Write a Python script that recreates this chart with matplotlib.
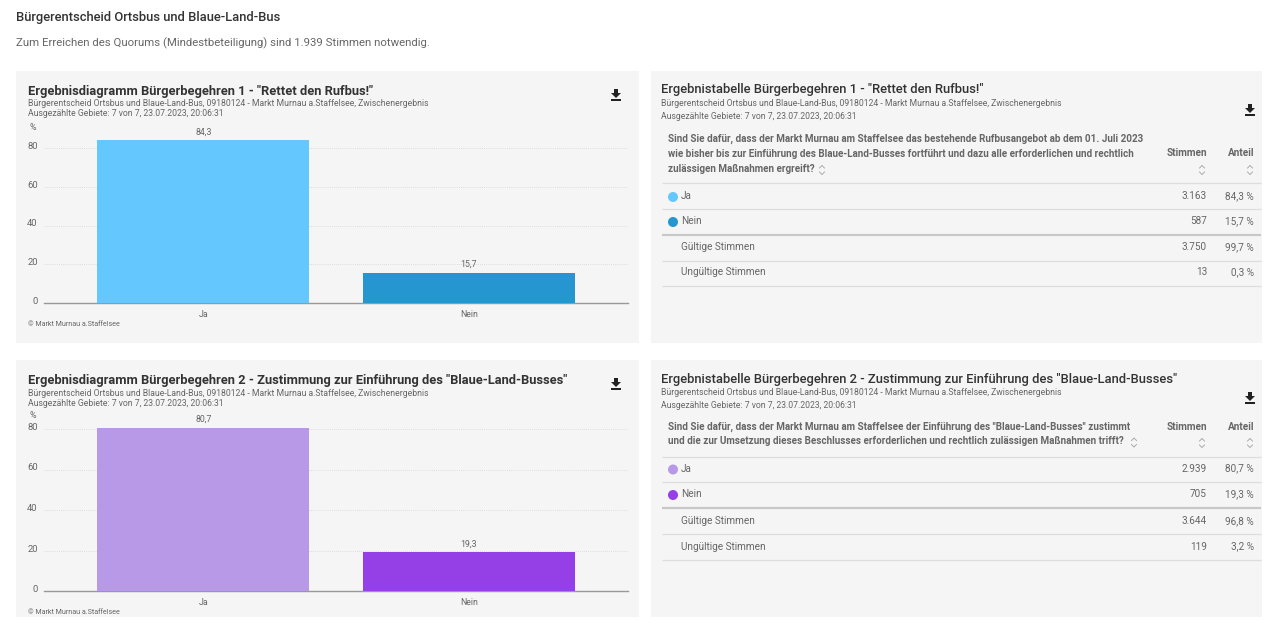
import matplotlib
matplotlib.use('Agg')
import matplotlib.pyplot as plt
from matplotlib.patches import Rectangle, Circle, Polygon
from matplotlib.transforms import ScaledTranslation

plt.rcParams['font.family'] = ['Roboto', 'DejaVu Sans']

W, H = 1280, 631

page_title = 'Bürgerentscheid Ortsbus und Blaue-Land-Bus'
page_note = 'Zum Erreichen des Quorums (Mindestbeteiligung) sind 1.939 Stimmen notwendig.'
sub1 = 'Bürgerentscheid Ortsbus und Blaue-Land-Bus, 09180124 - Markt Murnau a.Staffelsee, Zwischenergebnis'
sub2 = 'Ausgezählte Gebiete: 7 von 7, 23.07.2023, 20:06:31'
copyright_text = '© Markt Murnau a.Staffelsee'

categories = ['Ja', 'Nein']
yticks = [0, 20, 40, 60, 80]

title_chart1 = 'Ergebnisdiagramm Bürgerbegehren 1 - "Rettet den Rufbus!"'
values1 = [84.3, 15.7]
colors1 = ['#64c8ff', '#2596cf']

title_chart2 = 'Ergebnisdiagramm Bürgerbegehren 2 - Zustimmung zur Einführung des "Blaue-Land-Busses"'
values2 = [80.7, 19.3]
colors2 = ['#b899e8', '#9540e6']

title_table1 = 'Ergebnistabelle Bürgerbegehren 1 - "Rettet den Rufbus!"'
question1 = ['Sind Sie dafür, dass der Markt Murnau am Staffelsee das bestehende Rufbusangebot ab dem 01. Juli 2023',
             'wie bisher bis zur Einführung des Blaue-Land-Busses fortführt und dazu alle erforderlichen und rechtlich',
             'zulässigen Maßnahmen ergreift?']
rows1 = ['Ja', 'Nein', 'Gültige Stimmen', 'Ungültige Stimmen']
votes1 = ['3.163', '587', '3.750', '13']
share1 = ['84,3 %', '15,7 %', '99,7 %', '0,3 %']

title_table2 = 'Ergebnistabelle Bürgerbegehren 2 - Zustimmung zur Einführung des "Blaue-Land-Busses"'
question2 = ['Sind Sie dafür, dass der Markt Murnau am Staffelsee der Einführung des "Blaue-Land-Busses" zustimmt',
             'und die zur Umsetzung dieses Beschlusses erforderlichen und rechtlich zulässigen Maßnahmen trifft?']
rows2 = ['Ja', 'Nein', 'Gültige Stimmen', 'Ungültige Stimmen']
votes2 = ['2.939', '705', '3.644', '119']
share2 = ['80,7 %', '19,3 %', '96,8 %', '3,2 %']

fig = plt.figure(figsize=(W / 100, H / 100), dpi=100, facecolor='white')

# overlay in pixel coordinates for the page furniture
bg = fig.add_axes([0, 0, 1, 1])
bg.set_xlim(0, W)
bg.set_ylim(H, 0)
bg.axis('off')

PANEL = '#f5f5f5'
DARK = '#333333'
MID = '#666666'


def txt(x, y, s, size, color=MID, weight='normal', ha='left'):
    bg.text(x, y, s, fontsize=size, color=color, fontweight=weight, ha=ha, va='center')


def download_icon(cx, cy):
    bg.add_patch(Polygon([(cx - 2, cy - 5), (cx + 2, cy - 5), (cx + 2, cy - 1), (cx + 5, cy - 1),
                          (cx, cy + 4), (cx - 5, cy - 1), (cx - 2, cy - 1)], color='#222222', lw=0))
    bg.add_patch(Rectangle((cx - 5, cy + 5), 10, 1.6, color='#222222', lw=0))


def sort_icon(cx, cy):
    bg.plot([cx - 2.5, cx, cx + 2.5], [cy - 2, cy - 4.5, cy - 2], color='#aaaaaa', lw=0.7)
    bg.plot([cx - 2.5, cx, cx + 2.5], [cy + 2, cy + 4.5, cy + 2], color='#aaaaaa', lw=0.7)


def draw_chart(panel, title, values, colors, y0, px_per_unit, top_y):
    x, y, w, h = panel
    bg.add_patch(Rectangle((x, y), w, h, color=PANEL, lw=0))
    txt(28, y + 20.5, title, 9.27, DARK, 'bold')
    txt(28, y + 33, sub1, 6.22)
    txt(28, y + 43, sub2, 6.22)
    txt(33, y + 56, '%', 6.3, ha='center')
    txt(28, y0 + 21, copyright_text, 5.1)
    download_icon(616, y + 23)

    ymax = (y0 - top_y) / px_per_unit
    ax = fig.add_axes([44 / W, 1 - y0 / H, 584 / W, (y0 - top_y) / H])
    ax.patch.set_alpha(0)
    ax.bar(range(len(values)), values, width=0.8, color=colors, zorder=3)
    ax.set_xlim(-0.6, 1.6)
    ax.set_ylim(0, ymax)
    ax.set_yticks(yticks)
    ax.set_xticks(range(len(categories)))
    ax.set_xticklabels(categories, fontsize=6.3, color=MID)
    ax.tick_params(axis='both', length=0)
    ax.tick_params(axis='x', pad=5)
    ax.tick_params(axis='y', pad=4.5, labelsize=6.8, labelcolor=MID)
    shift = ScaledTranslation(0, 2.5 / 100, fig.dpi_scale_trans)
    for lab in ax.get_yticklabels():
        lab.set_transform(lab.get_transform() + shift)
    ax.grid(axis='y', color='#d4d4d4', lw=0.6, ls=(0, (1, 1.5)), zorder=1)
    ax.set_axisbelow(True)
    for s in ['top', 'left', 'right']:
        ax.spines[s].set_visible(False)
    ax.spines['bottom'].set_color('#999999')
    ax.spines['bottom'].set_linewidth(1.0)
    for i, v in enumerate(values):
        ax.annotate(f'{v:.1f}'.replace('.', ','), (i, v), xytext=(0, 2.5), textcoords='offset points',
                    ha='center', va='bottom', fontsize=6.3, color=MID, zorder=4)


def draw_table(panel, title, question, rows, votes, share, colors, ys):
    x, y, w, h = panel
    bg.add_patch(Rectangle((x, y), w, h, color=PANEL, lw=0))
    txt(661, ys['title'] + 1, title, 9.38, DARK, 'medium')
    txt(661, ys['title'] + 14.5, sub1, 6.24)
    txt(661, ys['title'] + 27.5, sub2, 6.24)
    download_icon(1250, ys['icon'])
    for i, line in enumerate(question):
        txt(668, ys['question'] + i * 15, line, 7.14, MID, 'bold')
    txt(1207, ys['head'], 'Stimmen', 7.2, MID, 'bold', ha='right')
    txt(1254, ys['head'], 'Anteil', 7.2, MID, 'bold', ha='right')
    sort_icon(1202, ys['sort'])
    sort_icon(1250, ys['sort'])
    sort_icon(ys['qsort'], ys['question'] + (len(question) - 1) * 15 + 1)
    for i, ly in enumerate(ys['lines']):
        bg.plot([662, 1261], [ly, ly], color='#c8c8c8' if i == 2 else '#dddddd', lw=1.6 if i == 2 else 0.9,
                solid_capstyle='butt')
    for i, row_y in enumerate(ys['rows']):
        txt(681, row_y, rows[i], 7.2)
        txt(1207, row_y, votes[i], 7.2, ha='right')
        txt(1254, row_y, share[i], 7.2, ha='right')
        if i < 2:
            bg.add_patch(Circle((673, row_y + 1), 5, color=colors[i], lw=0))


txt(16, 17, page_title, 9.4, DARK, 'medium')
txt(16, 43, page_note, 8.2)

draw_chart((16, 71, 623, 272), title_chart1, values1, colors1, 303, 1.9375, 130)
draw_chart((16, 360, 623, 257), title_chart2, values2, colors2, 591, 2.025, 418)

draw_table((651, 71, 611, 272), title_table1, question1, rows1, votes1, share1, colors1,
           {'title': 89, 'icon': 109, 'question': 139, 'head': 153.5, 'sort': 170, 'qsort': 822,
            'lines': [183, 208.7, 235, 260.7, 286], 'rows': [196, 221, 247, 272]})
draw_table((651, 360, 611, 257), title_table2, question2, rows2, votes2, share2, colors2,
           {'title': 378, 'icon': 397, 'question': 426.5, 'head': 426.5, 'sort': 443, 'qsort': 1134,
            'lines': [456.7, 481.7, 507.7, 534, 560], 'rows': [468.5, 494, 521, 546.5]})

fig.savefig('out.png', dpi=100, facecolor='white')
